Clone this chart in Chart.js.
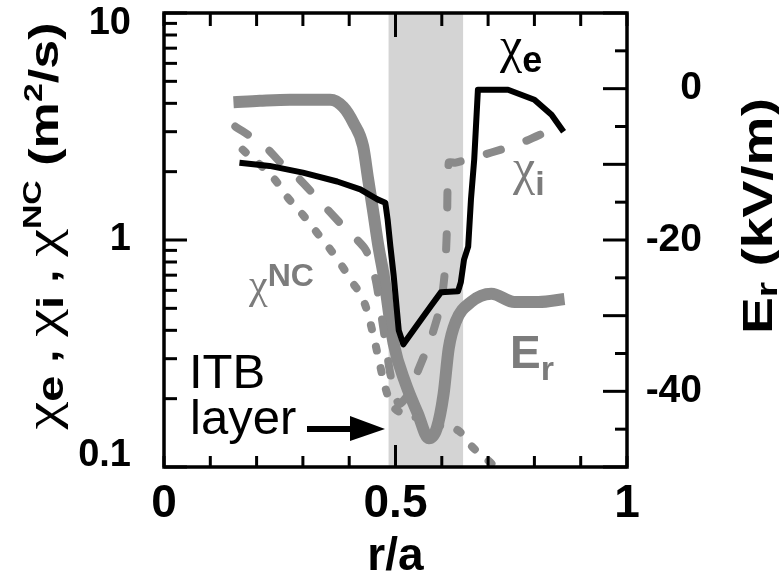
<!DOCTYPE html>
<html>
<head>
<meta charset="utf-8">
<script src="https://cdn.jsdelivr.net/npm/chart.js@4.4.1/dist/chart.umd.min.js"></script>
<style>
  html, body { margin: 0; padding: 0; background: #fff; }
  #wrap { width: 779px; height: 581px; }
</style>
</head>
<body>
<div id="wrap"><canvas id="chart" width="779" height="581"></canvas></div>
<script>
// r/a positions and values
const chiER = [0.163, 0.228, 0.300, 0.374, 0.424, 0.461, 0.478, 0.483, 0.489, 0.496, 0.507, 0.517, 0.548, 0.576, 0.598, 0.635, 0.641, 0.648, 0.657, 0.663, 0.670, 0.678, 0.743, 0.800, 0.837, 0.863];
const chiE  = [2.19, 2.12, 1.98, 1.81, 1.67, 1.51, 1.46, 1.23, 0.935, 0.70, 0.40, 0.347, 0.425, 0.511, 0.588, 0.594, 0.65, 0.82, 0.935, 1.51, 2.26, 4.59, 4.59, 4.15, 3.56, 3.0];

const chiIR = [0.154, 0.217, 0.250, 0.293, 0.337, 0.380, 0.435, 0.457, 0.474, 0.489, 0.507, 0.528, 0.550, 0.576, 0.598, 0.607, 0.611, 0.615, 0.630, 0.707, 0.772, 0.859];
const chiI  = [3.16, 2.60, 2.21, 1.85, 1.48, 1.19, 0.91, 0.67, 0.405, 0.256, 0.189, 0.209, 0.270, 0.366, 0.52, 0.741, 1.11, 2.19, 2.19, 2.43, 2.68, 3.22];

const chiNCR = [0.170, 0.239, 0.267, 0.300, 0.330, 0.359, 0.385, 0.407, 0.428, 0.441, 0.450, 0.489, 0.530, 0.580, 0.637, 0.667, 0.702, 0.715];
const chiNC  = [2.50, 1.85, 1.54, 1.29, 1.08, 0.91, 0.765, 0.65, 0.558, 0.471, 0.397, 0.193, 0.170, 0.155, 0.144, 0.122, 0.106, 0.100];

const erR   = [0.150, 0.207, 0.272, 0.359, 0.387, 0.409, 0.430, 0.441, 0.452, 0.463, 0.474, 0.496, 0.522, 0.548, 0.572, 0.589, 0.604, 0.615, 0.630, 0.663, 0.707, 0.757, 0.809, 0.865];
const erVal = [-1.8, -1.6, -1.45, -1.45, -2.4, -4.5, -7.6, -12.0, -16.3, -20.8, -24.5, -33.7, -39.0, -42.9, -46.2, -44.9, -40.3, -34.3, -30.8, -28.2, -27.1, -28.2, -28.2, -27.8];

// ITB layer (shaded band), r/a
const itbBand = [0.485, 0.646];

// labelled ticks
const xTickLabels = [0, 0.5, 1];
const yTickLabels = [0.1, 1, 10];
const erTickLabels = [0, -20, -40];

const SANS = '"Liberation Sans", Arial, sans-serif';
const SERIF = '"Liberation Serif", "Times New Roman", serif';
const GRAY = '#8a8a8a';
const TEXT_GRAY = '#7c7c7c';

const pts = (xs, ys) => xs.map((x, i) => ({ x: x, y: ys[i] }));
const near = (v, list) => list.some(l => Math.abs(v - l) < 1e-6);

function line(ctx, x1, y1, x2, y2) {
    ctx.beginPath();
    ctx.moveTo(x1, y1);
    ctx.lineTo(x2, y2);
    ctx.stroke();
}

// fixed axis boxes so the plot frame lands where the figure has it
function fixBox(size) {
    return scale => {
        if (scale.isHorizontal()) scale.height = size;
        else scale.width = size;
        scale.paddingTop = 0;
        scale.paddingBottom = 0;
        scale.paddingLeft = 0;
        scale.paddingRight = 0;
    };
}

// end labels of the log axis sit inside the frame, as in the figure
function logLabel(v) {
    if (!near(v, yTickLabels)) return '';
    if (near(v, [10])) return ['', '10'];
    if (near(v, [0.1])) return ['0.1', ''];
    return String(v);
}

// draw a run of text pieces with their own font / baseline shift
function drawRich(ctx, runs, x, y, opt) {
    ctx.save();
    ctx.translate(x, y);
    if (opt.rotate) ctx.rotate(opt.rotate);
    let w = 0;
    runs.forEach(r => { ctx.font = r.font; w += ctx.measureText(r.text).width; });
    if (opt.length) ctx.scale(opt.length / w, 1);
    let cx = opt.center ? -w / 2 : 0;
    ctx.textAlign = 'left';
    ctx.textBaseline = 'alphabetic';
    runs.forEach(r => {
        ctx.font = r.font;
        ctx.fillStyle = r.color || opt.color || '#000';
        ctx.fillText(r.text, cx, r.dy || 0);
        cx += ctx.measureText(r.text).width;
    });
    ctx.restore();
}

const bandPlugin = {
    id: 'itbBand',
    beforeDatasetsDraw(chart) {
        const { ctx, chartArea: a, scales: { x } } = chart;
        const x1 = x.getPixelForValue(itbBand[0]);
        const x2 = x.getPixelForValue(itbBand[1]);
        ctx.save();
        ctx.fillStyle = '#d4d4d4';
        ctx.fillRect(x1, a.top, x2 - x1, a.height);
        ctx.restore();
    }
};

const framePlugin = {
    id: 'frame',
    afterDatasetsDraw(chart) {
        const { ctx, chartArea: a, scales } = chart;
        ctx.save();
        ctx.strokeStyle = '#000';
        ctx.lineWidth = 3;
        scales.x.ticks.forEach(t => {
            const px = scales.x.getPixelForValue(t.value);
            const major = Math.abs(t.value - 0.5) < 1e-6;
            line(ctx, px, a.bottom, px, a.bottom - (major ? 22 : 11));
            line(ctx, px, a.top, px, a.top + (major ? 24 : 13));
        });
        scales.y.ticks.forEach(t => {
            const e = Math.floor(Math.log10(t.value) + 1e-9);
            const sig = t.value / Math.pow(10, e);
            if (Math.abs(sig - Math.round(sig)) > 1e-6) return;
            const py = scales.y.getPixelForValue(t.value);
            line(ctx, a.left, py, a.left + (Math.round(sig) === 1 ? 23 : 13), py);
        });
        scales.y1.ticks.forEach(t => {
            const py = scales.y1.getPixelForValue(t.value);
            line(ctx, a.right, py, a.right - (t.value % 10 === 0 ? 24 : 12), py);
        });
        ctx.lineWidth = 3.5;
        ctx.strokeRect(a.left, a.top, a.right - a.left, a.bottom - a.top);
        ctx.restore();
    }
};

const labelPlugin = {
    id: 'labels',
    afterDraw(chart) {
        const ctx = chart.ctx;
        // curve labels
        drawRich(ctx, [
            { text: 'χ', font: '50px ' + SERIF },
            { text: 'e', font: 'bold 36px ' + SANS, dy: 10 }
        ], 500, 62, { color: '#000' });
        drawRich(ctx, [
            { text: 'χ', font: '50px ' + SERIF },
            { text: 'i', font: 'bold 34px ' + SANS, dy: 11 }
        ], 513, 184, { color: TEXT_GRAY });
        drawRich(ctx, [
            { text: 'χ', font: '42px ' + SERIF },
            { text: 'NC', font: 'bold 32px ' + SANS, dy: -12 }
        ], 249, 298, { color: TEXT_GRAY });
        drawRich(ctx, [
            { text: 'E', font: 'bold 46px ' + SANS },
            { text: 'r', font: 'bold 34px ' + SANS, dy: 12 }
        ], 510, 368, { color: TEXT_GRAY });

        // ITB layer note with arrow
        drawRich(ctx, [{ text: 'ITB', font: '49px ' + SANS }], 189, 388, { color: '#000' });
        drawRich(ctx, [{ text: 'layer', font: '49px ' + SANS }], 190, 434, { color: '#000' });
        ctx.save();
        ctx.fillStyle = '#000';
        ctx.fillRect(307, 426, 46, 6);
        ctx.beginPath();
        ctx.moveTo(350, 416);
        ctx.lineTo(385, 429);
        ctx.lineTo(350, 441);
        ctx.closePath();
        ctx.fill();
        ctx.restore();

        // axis titles
        drawRich(ctx, [
            { text: 'χ', font: '48px ' + SERIF },
            { text: 'e', font: 'bold 36px ' + SANS, dy: 5 },
            { text: ' , ', font: 'bold 36px ' + SANS },
            { text: 'χ', font: '48px ' + SERIF },
            { text: 'i', font: 'bold 36px ' + SANS, dy: 5 },
            { text: ' , ', font: 'bold 36px ' + SANS },
            { text: 'χ', font: '48px ' + SERIF },
            { text: 'NC', font: 'bold 26px ' + SANS, dy: -17 },
            { text: ' (m', font: 'bold 40px ' + SANS },
            { text: '2', font: 'bold 26px ' + SANS, dy: -16 },
            { text: '/s)', font: 'bold 40px ' + SANS }
        ], 58, 226, { rotate: -Math.PI / 2, center: true, length: 407, color: '#000' });
        drawRich(ctx, [
            { text: 'E', font: 'bold 42px ' + SANS },
            { text: 'r', font: 'bold 30px ' + SANS, dy: 5 },
            { text: ' (kV/m)', font: 'bold 42px ' + SANS }
        ], 772, 216, { rotate: -Math.PI / 2, center: true, length: 236, color: '#000' });
    }
};

const ctx = document.getElementById('chart').getContext('2d');
new Chart(ctx, {
    type: 'line',
    data: {
        datasets: [
            {
                label: 'chi_e',
                data: pts(chiER, chiE),
                yAxisID: 'y',
                borderColor: '#000',
                borderWidth: 6,
                tension: 0,
                pointRadius: 0,
                borderJoinStyle: 'round'
            },
            {
                label: 'chi_i',
                data: pts(chiIR, chiI),
                yAxisID: 'y',
                borderColor: GRAY,
                borderWidth: 8,
                borderDash: [15, 27],
                borderCapStyle: 'round',
                tension: 0.2,
                pointRadius: 0
            },
            {
                label: 'chi_NC',
                data: pts(chiNCR, chiNC),
                yAxisID: 'y',
                borderColor: GRAY,
                borderWidth: 8,
                borderDash: [4, 18],
                borderCapStyle: 'round',
                cubicInterpolationMode: 'monotone',
                pointRadius: 0
            },
            {
                label: 'E_r',
                data: pts(erR, erVal),
                yAxisID: 'y1',
                borderColor: GRAY,
                borderWidth: 12,
                cubicInterpolationMode: 'monotone',
                pointRadius: 0,
                borderJoinStyle: 'round'
            }
        ]
    },
    options: {
        responsive: false,
        animation: false,
        layout: { padding: { top: 13, left: 0, right: 0, bottom: 0 } },
        plugins: {
            legend: { display: false },
            tooltip: { enabled: false }
        },
        scales: {
            x: {
                type: 'linear',
                position: 'bottom',
                min: 0,
                max: 1,
                grid: { display: false },
                border: { display: false },
                ticks: {
                    stepSize: 0.1,
                    autoSkip: false,
                    maxRotation: 0,
                    padding: 2,
                    color: '#000',
                    font: { family: SANS, size: 46, weight: 'bold' },
                    callback: v => near(v, xTickLabels) ? String(Math.round(v * 10) / 10) : ''
                },
                title: {
                    display: true,
                    text: 'r/a',
                    color: '#000',
                    font: { family: SANS, size: 46, weight: 'bold', lineHeight: 1 },
                    padding: { top: 0, bottom: 1 }
                },
                afterFit: fixBox(114)
            },
            y: {
                type: 'logarithmic',
                position: 'left',
                min: 0.1,
                max: 10,
                grid: { display: false },
                border: { display: false },
                ticks: {
                    autoSkip: false,
                    padding: 25,
                    color: '#000',
                    font: { family: SANS, size: 38, weight: 'bold', lineHeight: '22px' },
                    callback: logLabel
                },
                afterFit: fixBox(164)
            },
            y1: {
                type: 'linear',
                position: 'right',
                min: -50,
                max: 10,
                grid: { display: false },
                border: { display: false },
                ticks: {
                    stepSize: 5,
                    autoSkip: false,
                    mirror: true,
                    crossAlign: 'near',
                    padding: 75,
                    color: '#000',
                    font: { family: SANS, size: 39, weight: 'bold' },
                    callback: v => near(v, erTickLabels) ? String(v) : ''
                },
                afterFit: fixBox(152)
            }
        }
    },
    plugins: [bandPlugin, framePlugin, labelPlugin]
});
</script>
</body>
</html>
